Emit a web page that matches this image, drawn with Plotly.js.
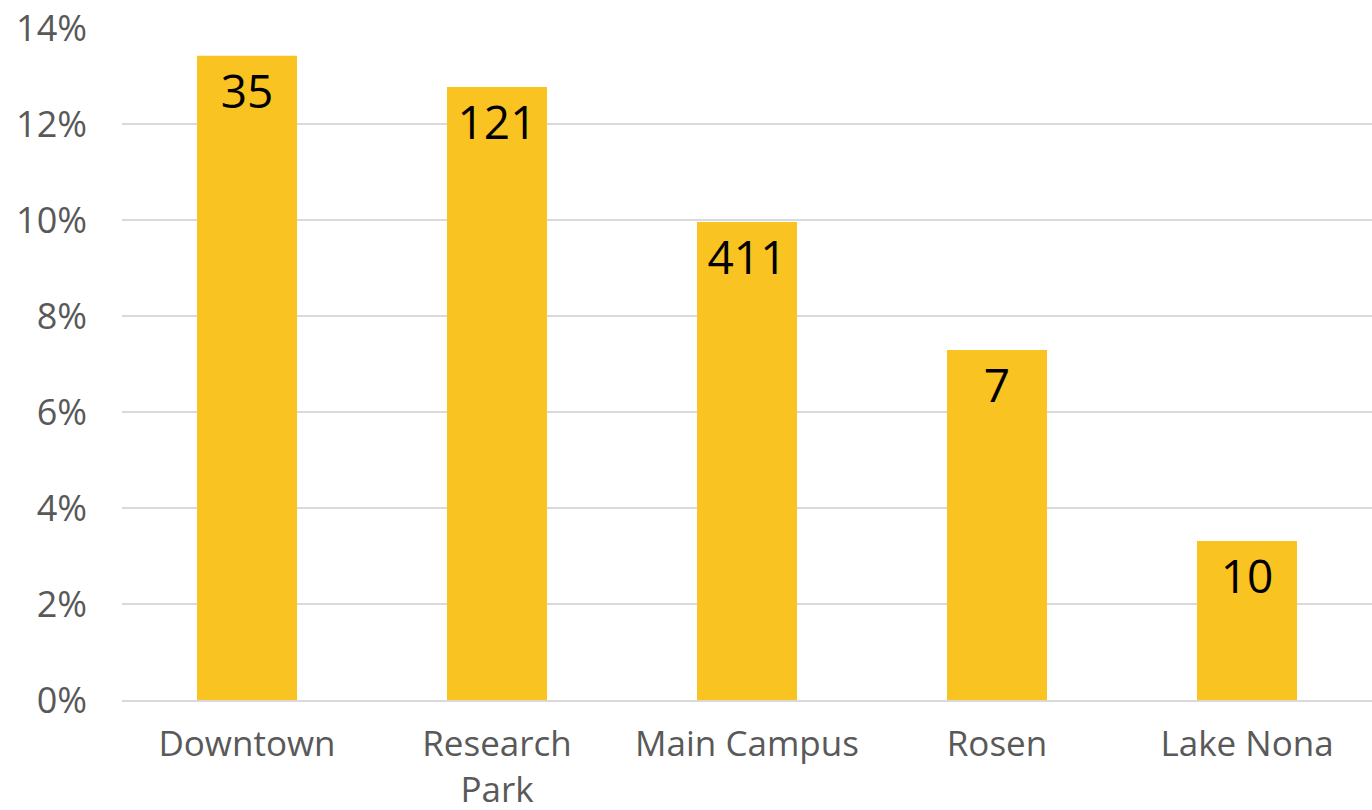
<!DOCTYPE html>
<html>
<head>
<meta charset="utf-8">
<script src="https://cdn.plot.ly/plotly-3.0.1.min.js"></script>
<style>html,body{margin:0;padding:0;background:#fff}#chart{width:1372px;height:810px}</style>
</head>
<body>
<div id="chart"></div>
<script>
const categories = ["Downtown", "Research<br>Park", "Main Campus", "Rosen", "Lake Nona"];
const shares = [0.1342, 0.1277, 0.0996, 0.0729, 0.0331];
const counts = ["35", "121", "411", "7", "10"];
const tickVals = [0, 0.02, 0.04, 0.06, 0.08, 0.10, 0.12, 0.14];
const tickText = ["0%", "2%", "4%", "6%", "8%", "10%", "12%", "14%"];

const trace = {
  type: "bar",
  x: categories,
  y: shares,
  text: counts,
  textposition: "inside",
  insidetextanchor: "end",
  textangle: 0,
  insidetextfont: {family: "Open Sans", size: 46, color: "#000000"},
  marker: {color: "#F9C322"},
  hoverinfo: "none",
  cliponaxis: false
};

const layout = {
  width: 1372, height: 810,
  margin: {l: 122, r: 0, t: 28, b: 110},
  paper_bgcolor: "#ffffff",
  plot_bgcolor: "#ffffff",
  bargap: 0.6,
  showlegend: false,
  font: {family: "Open Sans", color: "#595959"},
  xaxis: {
    type: "category",
    tickfont: {family: "Open Sans", size: 35, color: "#595959"},
    showgrid: false,
    showline: true,
    linecolor: "#d9d9d9",
    linewidth: 2,
    ticks: "",
    ticklabelstandoff: 12,
    fixedrange: true
  },
  yaxis: {
    range: [0, 0.14],
    tickvals: tickVals,
    ticktext: tickText,
    tickfont: {family: "Open Sans", size: 36, color: "#595959"},
    showgrid: true,
    gridcolor: "#d9d9d9",
    gridwidth: 2,
    zeroline: false,
    showline: false,
    ticks: "",
    ticklabelstandoff: 34,
    fixedrange: true
  }
};

Plotly.newPlot("chart", [trace], layout, {displayModeBar: false, staticPlot: true});
</script>
</body>
</html>
